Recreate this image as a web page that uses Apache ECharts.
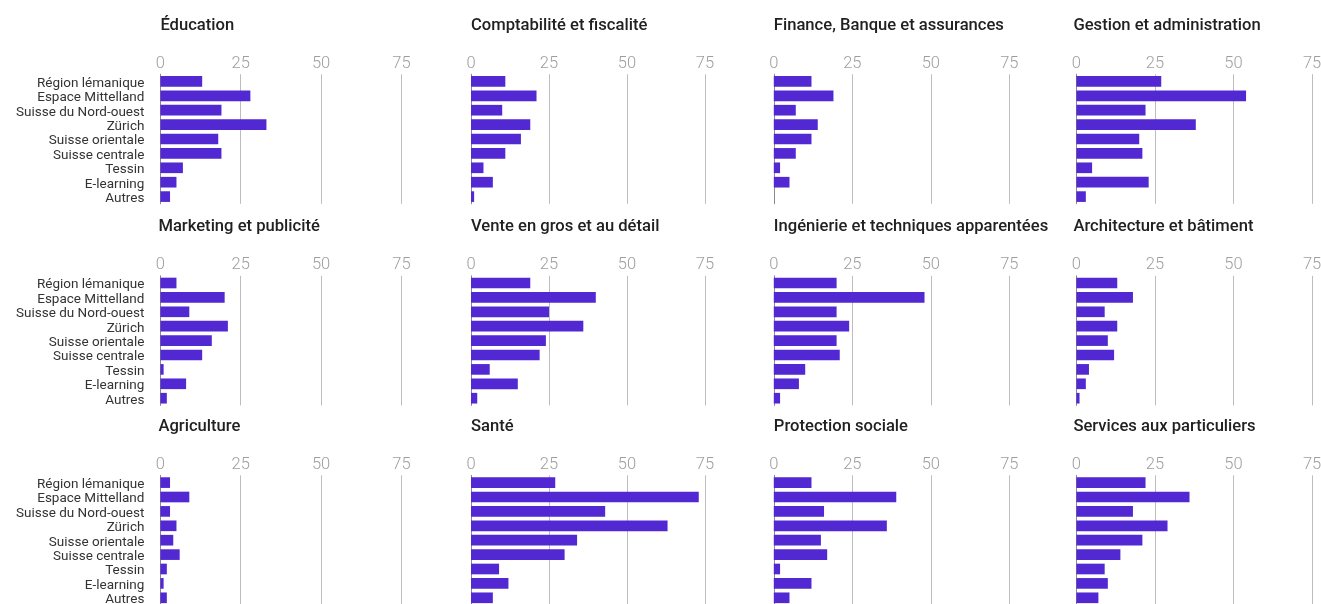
<!DOCTYPE html>
<html>
<head>
<meta charset="utf-8">
<script src="https://cdn.jsdelivr.net/npm/echarts@6/dist/echarts.min.js"></script>
<style>
html,body{margin:0;padding:0;background:#fff;}
#c{width:1321px;height:604px;}
</style>
</head>
<body>
<div id="c"></div>
<script>
const regions = ['Région lémanique','Espace Mittelland','Suisse du Nord-ouest','Zürich','Suisse orientale','Suisse centrale','Tessin','E-learning','Autres'];
const titles = ['Éducation','Comptabilité et fiscalité','Finance, Banque et assurances','Gestion et administration',
  'Marketing et publicité','Vente en gros et au détail','Ingénierie et techniques apparentées','Architecture et bâtiment',
  'Agriculture','Santé','Protection sociale','Services aux particuliers'];
const education    = [13,28,19,33,18,19,7,5,3];
const comptabilite = [11,21,10,19,16,11,4,7,1];
const finance      = [12,19,7,14,12,7,2,5,0];
const gestion      = [27,54,22,38,20,21,5,23,3];
const marketing    = [5,20,9,21,16,13,1,8,2];
const vente        = [19,40,25,36,24,22,6,15,2];
const ingenierie   = [20,48,20,24,20,21,10,8,2];
const architecture = [13,18,9,13,10,12,4,3,1];
const agriculture  = [3,9,3,5,4,6,2,1,2];
const sante        = [27,73,43,63,34,30,9,12,7];
const protection   = [12,39,16,36,15,17,2,12,5];
const services     = [22,36,18,29,21,14,9,10,7];
const tickInterval = 25;
const axisMax = 78;

const panels = [education,comptabilite,finance,gestion,marketing,vente,ingenierie,architecture,agriculture,sante,protection,services];

const colLeft = [160.4, 471, 773.8, 1076.4];
const titleShift = [0, 0, 0, -3];
const colUnit = [3.213, 3.12, 3.14, 3.142];
const rowTop = [74.2, 275.8, 475.4];
const gridH = 129.6;

const grids = [], xAxes = [], yAxes = [], series = [], titleArr = [];
panels.forEach((vals, i) => {
  const r = Math.floor(i / 4), c = i % 4;
  grids.push({left: colLeft[c], top: rowTop[r], width: colUnit[c] * axisMax, height: gridH, containLabel: false, outerBoundsMode: 'none'});
  xAxes.push({
    type: 'value', gridIndex: i, position: 'top', min: 0, max: axisMax, interval: tickInterval,
    axisLine: {show: false}, axisTick: {show: false},
    axisLabel: {show: true, showMaxLabel: false, color: '#9e9e9e', fontSize: 16.5, fontWeight: 300, fontFamily: 'Roboto', margin: 2},
    splitLine: {show: true, showMaxLine: false, lineStyle: {color: '#bdbdbd', width: 1}}
  });
  yAxes.push({
    type: 'category', gridIndex: i, data: regions, inverse: true,
    axisLine: {show: true, lineStyle: {color: '#8a8a8a', width: 1}},
    axisTick: {show: false},
    axisLabel: {show: c === 0, interval: 0, color: '#333333', fontSize: 13.5, fontFamily: 'Roboto', margin: 16,
      verticalAlign: 'top', lineHeight: 14, padding: [-5, 0, 0, 0]}
  });
  series.push({
    type: 'bar', xAxisIndex: i, yAxisIndex: i, data: vals, barCategoryGap: '26%',
    itemStyle: {color: '#5128d1'}, silent: true
  });
  titleArr.push({
    text: titles[i], left: colLeft[c] + titleShift[c] - (c === 0 && r > 0 ? 2 : 0), top: rowTop[r] - 57, padding: 0,
    textStyle: {fontFamily: 'Roboto', fontSize: 16.6, fontWeight: 500, color: '#212121'}
  });
});

const chart = echarts.init(document.getElementById('c'), null, {renderer: 'canvas'});
chart.setOption({
  animation: false,
  title: titleArr,
  grid: grids,
  xAxis: xAxes,
  yAxis: yAxes,
  series: series
});
</script>
</body>
</html>
